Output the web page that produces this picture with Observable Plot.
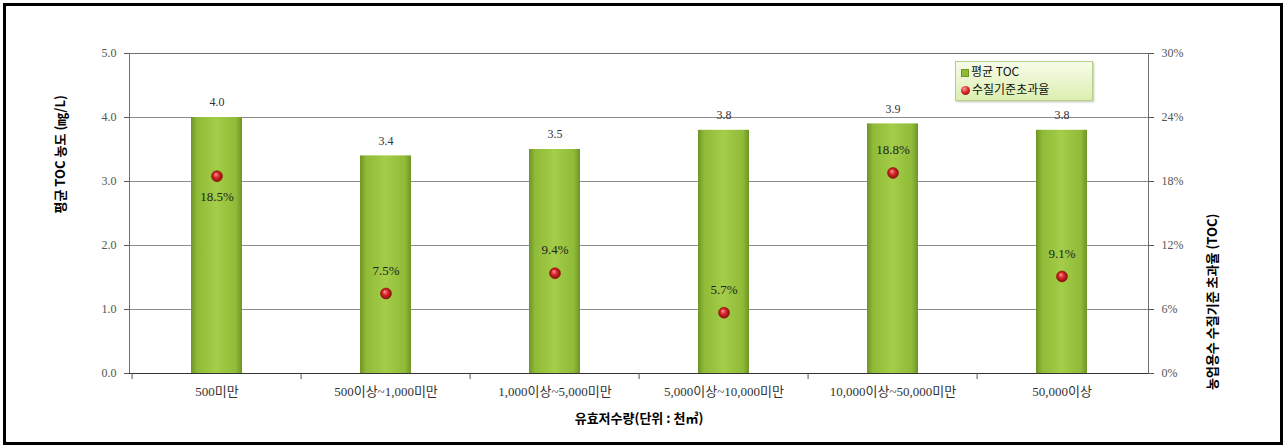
<!DOCTYPE html>
<html>
<head>
<meta charset="utf-8">
<script src="https://cdn.jsdelivr.net/npm/d3@7"></script>
<script src="https://cdn.jsdelivr.net/npm/@observablehq/plot@0.6"></script>
<style>
  html, body { margin: 0; padding: 0; background: #fff; }
  #wrap { position: relative; width: 1284px; height: 446px; overflow: hidden; }
  #wrap svg { position: absolute; left: 0; top: 0; }
  #border { position: absolute; left: 3px; top: 3px; width: 1274px; height: 436px; border: 3px solid #000; pointer-events: none; }
  #legend { position: absolute; left: 955px; top: 61px; width: 136px; height: 38px;
    border: 1px solid #b7cf86; background: linear-gradient(#f7fbe9, #dcefb0);
    box-shadow: 1px 1px 2px rgba(0,0,0,0.25);
    font-family: 'Noto Sans CJK KR', 'Liberation Serif', sans-serif; font-size: 12px; color: #111; }
  #legend .row { position: absolute; left: 5px; height: 13px; line-height: 13px; white-space: nowrap; }
  #legend .sw { display: inline-block; vertical-align: middle; margin-right: 2px; }
</style>
</head>
<body>
<div id="wrap">
  <div id="border"></div>
</div>
<script>
// ---- data ----
const categories = ["500미만", "500이상~1,000미만", "1,000이상~5,000미만", "5,000이상~10,000미만", "10,000이상~50,000미만", "50,000이상"];
const tocValues = [4.0, 3.4, 3.5, 3.8, 3.9, 3.8];
const rateValues = [18.5, 7.5, 9.4, 5.7, 18.8, 9.1];
const leftTicks = [0, 1, 2, 3, 4, 5];
const rightTicks = [0, 6, 12, 18, 24, 30];
const seriesNames = ["평균 TOC", "수질기준초과율"];
const leftTitle = "평균 TOC 농도 (㎎/L)";
const rightTitle = "농업용수 수질기준 초과율 (TOC)";
const xTitle = "유효저수량(단위 : 천㎥)";

const leftMax = leftTicks[leftTicks.length - 1];
const rightMax = rightTicks[rightTicks.length - 1];
const ratio = leftMax / rightMax;

const data = categories.map((c, i) => ({cat: c, toc: tocValues[i], rate: rateValues[i], i}));

const W = 1284, H = 446, mL = 129, mR = 136, mT = 53, mB = 73;
const step = (W - mL - mR) / categories.length;
const fontFam = "'Liberation Serif','Noto Sans CJK KR',serif";

const chart = Plot.plot({
  width: W, height: H,
  marginLeft: mL, marginRight: mR, marginTop: mT, marginBottom: mB,
  style: {fontFamily: fontFam, fontSize: "12px", color: "#444", background: "transparent", overflow: "visible"},
  x: {type: "band", domain: categories, padding: 0, axis: null},
  y: {domain: [0, leftMax], axis: null},
  marks: [
    Plot.gridY(leftTicks, {stroke: "#8c8c8c", strokeOpacity: 1}),
    Plot.frame({stroke: "#6e6e6e"}),
    Plot.barY(data, {x: "cat", y: "toc", fill: "url(#barGrad)", insetLeft: 59, insetRight: 59}),
    Plot.ruleY([0], {stroke: "#333"}),
    Plot.ruleX(categories, {x: d => d, dx: -step / 2, insetTop: H - mT - mB, insetBottom: -6, stroke: "#555"}),
    Plot.axisY(leftTicks, {anchor: "left", tickFormat: d3.format(".1f"), tickSize: 5, tickPadding: 8, stroke: "#555", fill: "#555", label: null}),
    Plot.axisY(leftTicks, {anchor: "right", tickFormat: d => d / ratio + "%", tickSize: 5, tickPadding: 8, stroke: "#555", fill: "#555", label: null}),
    Plot.axisX({tickSize: 0, tickPadding: 13, fontSize: 13, fill: "#333", label: null, fontFamily: fontFam}),
    Plot.dot(data, {x: "cat", y: d => d.rate * ratio, r: 5.5, fill: "url(#dotGrad)", stroke: "#8a0a0a", strokeWidth: 0.5}),
    Plot.text(data, {x: "cat", y: "toc", text: d => d.toc.toFixed(1), dy: -15, fill: "#333", fontSize: 12}),
    Plot.text(data.filter(d => d.i === 0), {x: "cat", y: d => d.rate * ratio, text: d => d.rate.toFixed(1) + "%", dy: 21, fill: "#222", fontSize: 13}),
    Plot.text(data.filter(d => d.i !== 0), {x: "cat", y: d => d.rate * ratio, text: d => d.rate.toFixed(1) + "%", dy: -23, fill: "#222", fontSize: 13}),
    Plot.text([leftTitle], {frameAnchor: "left", dx: -69, rotate: -90, fontWeight: "bold", fontSize: 13, fill: "#000", fontFamily: "'Noto Sans CJK KR',sans-serif"}),
    Plot.text([rightTitle], {frameAnchor: "right", dx: 64, rotate: -90, fontWeight: "bold", fontSize: 13, fill: "#000", fontFamily: "'Noto Sans CJK KR',sans-serif"}),
    Plot.text([xTitle], {frameAnchor: "bottom", dy: 49, fontWeight: "bold", fontSize: 13, fill: "#000", fontFamily: "'Noto Sans CJK KR',sans-serif"})
  ]
});

// gradients
const ns = "http://www.w3.org/2000/svg";
const defs = document.createElementNS(ns, "defs");
defs.innerHTML = `
  <linearGradient id="barGrad" x1="0" y1="0" x2="1" y2="0">
    <stop offset="0%" stop-color="#6f9426"/>
    <stop offset="12%" stop-color="#8fbb38"/>
    <stop offset="50%" stop-color="#a4cd48"/>
    <stop offset="88%" stop-color="#8fbb38"/>
    <stop offset="100%" stop-color="#6f9426"/>
  </linearGradient>
  <radialGradient id="dotGrad" cx="50%" cy="50%" r="55%" fx="38%" fy="32%">
    <stop offset="0%" stop-color="#ff9a9a"/>
    <stop offset="45%" stop-color="#d8272a"/>
    <stop offset="100%" stop-color="#7e0b0b"/>
  </radialGradient>`;
chart.insertBefore(defs, chart.firstChild);

const wrap = document.getElementById("wrap");
wrap.insertBefore(chart, wrap.firstChild);

// legend
const legend = document.createElement("div");
legend.id = "legend";
legend.innerHTML = `
  <div class="row" style="top:2px"><span class="sw" style="width:6px;height:6px;background:#8fbb38;border:1px solid #6f9426"></span>${seriesNames[0]}</div>
  <div class="row" style="top:20px"><span class="sw" style="width:9px;height:9px;border-radius:50%;background:radial-gradient(circle at 38% 32%, #ff9a9a, #d8272a 45%, #7e0b0b)"></span>${seriesNames[1]}</div>`;
wrap.appendChild(legend);
</script>
</body>
</html>
